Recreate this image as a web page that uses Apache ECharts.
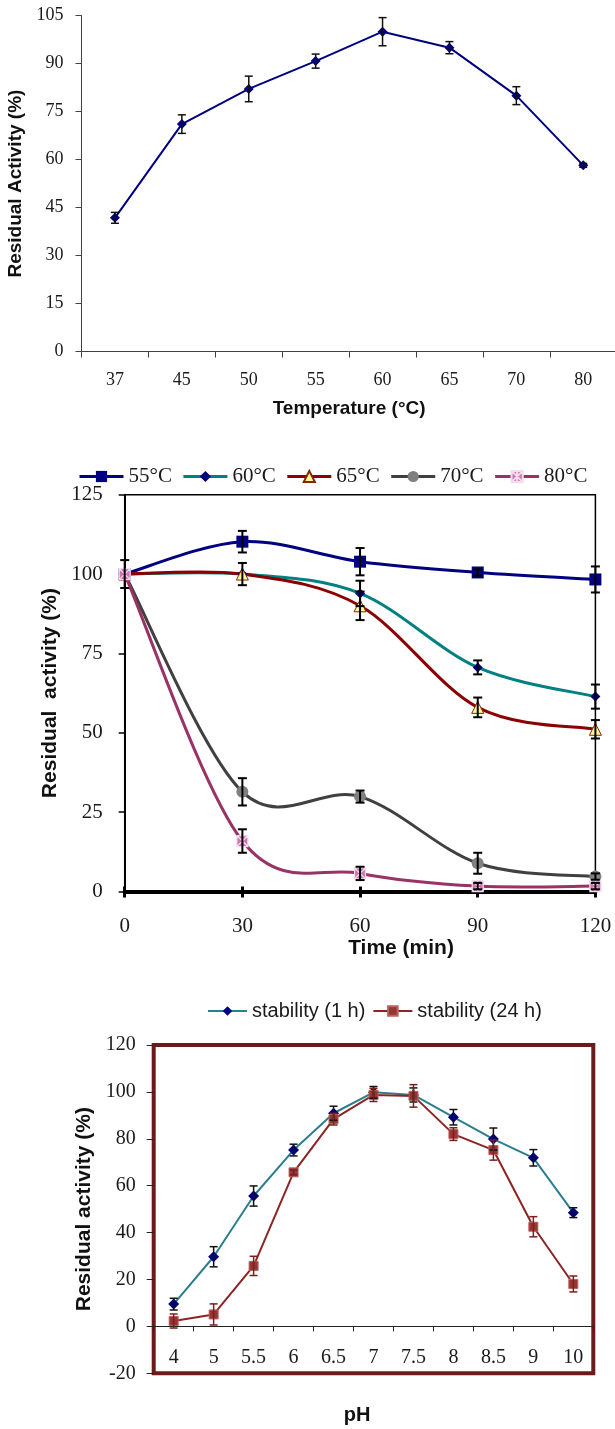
<!DOCTYPE html>
<html>
<head>
<meta charset="utf-8">
<script src="https://cdn.jsdelivr.net/npm/echarts@6/dist/echarts.min.js"></script>
<style>
  html, body { margin: 0; padding: 0; background: #fff; }
  #chart { width: 615px; height: 1429px; }
</style>
</head>
<body>
<div id="chart"></div>
<script>
// Panel A: temperature optimum
const tempCats = ['37', '45', '50', '55', '60', '65', '70', '80'];
const tempActivity = [41.8, 71.1, 82.1, 90.8, 100, 95, 80, 58.2];
const tempError = [1.7, 2.9, 4.0, 2.2, 4.4, 1.9, 2.8, 0.6];

// Panel B: thermal stability over time
const timePoints = [0, 30, 60, 90, 120];
const act55 = [100, 110.2, 103.9, 100.5, 98.3];
const err55 = [4.4, 3.4, 4.3, 1.0, 4.1];
const act60 = [100, 100, 93.9, 70.6, 61.4];
const err60 = [0, 0, 4.0, 2.2, 3.8];
const act65 = [100, 100, 90.0, 58.0, 51.1];
const err65 = [0, 3.5, 4.5, 3.1, 2.9];
const act70 = [100, 31.4, 29.9, 8.9, 4.7];
const err70 = [0, 4.3, 1.9, 3.3, 1.0];
const act80 = [100, 15.9, 5.7, 1.7, 1.7];
const err80 = [0, 3.7, 2.1, 1.0, 1.0];

// Panel C: pH stability
const pHCats = ['4', '5', '5.5', '6', '6.5', '7', '7.5', '8', '8.5', '9', '10'];
const stab1h = [9.5, 29.7, 55.6, 75.2, 90.9, 99.8, 98.7, 89.2, 79.9, 71.9, 48.5];
const err1h = [2.5, 4.3, 4.3, 2.5, 3.0, 2.5, 3.0, 3.3, 4.7, 3.5, 2.1];
const stab24h = [2.3, 5.1, 25.8, 65.7, 88.4, 98.7, 98.3, 82.0, 75.2, 42.5, 18.1];
const err24h = [3.0, 4.5, 4.1, 1.0, 2.5, 2.8, 4.8, 2.7, 4.3, 4.3, 3.4];

const SERIF = '"Liberation Serif", "Times New Roman", serif';
const SANS = '"Liberation Sans", Arial, sans-serif';

// vertical error bar with caps, data item = [x, y, err]
function errorBar(color, capWidth, lineWidth) {
  return function (params, api) {
    const x = api.value(0), y = api.value(1), e = api.value(2);
    if (!e) return null;
    const top = api.coord([x, y + e]);
    const bot = api.coord([x, y - e]);
    const hw = capWidth / 2;
    const style = { stroke: color, lineWidth: lineWidth };
    return {
      type: 'group',
      children: [
        { type: 'line', shape: { x1: top[0], y1: top[1], x2: bot[0], y2: bot[1] }, style: style },
        { type: 'line', shape: { x1: top[0] - hw, y1: top[1], x2: top[0] + hw, y2: top[1] }, style: style },
        { type: 'line', shape: { x1: bot[0] - hw, y1: bot[1], x2: bot[0] + hw, y2: bot[1] }, style: style }
      ]
    };
  };
}

function errSeries(name, xi, yi, data, color, cap, lw) {
  return {
    name: name, type: 'custom', xAxisIndex: xi, yAxisIndex: yi,
    renderItem: errorBar(color, cap, lw),
    encode: { x: 0, y: 1 }, data: data, z: 5, silent: true, clip: false
  };
}

// Catmull-Rom style smoothed curve through a whole series (spreadsheet-like smoothing)
function smoothCurve(xs, ys, color, width) {
  return function (params, api) {
    if (params.dataIndex !== 0) return null;
    const pts = xs.map((x, i) => api.coord([x, ys[i]]));
    let d = 'M' + pts[0][0] + ',' + pts[0][1];
    for (let i = 0; i < pts.length - 1; i++) {
      const p0 = pts[Math.max(i - 1, 0)], p1 = pts[i], p2 = pts[i + 1];
      const p3 = pts[Math.min(i + 2, pts.length - 1)];
      const c1 = [p1[0] + (p2[0] - p0[0]) / 6, p1[1] + (p2[1] - p0[1]) / 6];
      const c2 = [p2[0] - (p3[0] - p1[0]) / 6, p2[1] - (p3[1] - p1[1]) / 6];
      d += ' C' + c1[0] + ',' + c1[1] + ' ' + c2[0] + ',' + c2[1] + ' ' + p2[0] + ',' + p2[1];
    }
    return {
      type: 'path', shape: { pathData: d },
      style: { stroke: color, lineWidth: width, fill: 'none', lineJoin: 'round' }
    };
  };
}

const catData = (vals, errs) => vals.map((v, i) => [i, v, errs[i]]);
const timeData = (vals, errs) => timePoints.map((t, i) => [t, vals[i], errs[i]]);
const pairs = (vals) => timePoints.map((t, i) => [t, vals[i]]);

const starBox = 'path://M0,0L10,0L10,10L0,10Z M0,0L10,10 M10,0L0,10 M5,0L5,10';

// temperature series styles for panel B
const tempSeries = [
  { name: '55°C', vals: act55, errs: err55, line: '#000080', symbol: 'rect', size: 12,
    item: { color: '#000080' } },
  { name: '60°C', vals: act60, errs: err60, line: '#008080', symbol: 'diamond', size: 10,
    item: { color: '#000080' } },
  { name: '65°C', vals: act65, errs: err65, line: '#8b0000', symbol: 'triangle', size: 12,
    item: { color: '#ffff99', borderColor: '#8b2500', borderWidth: 1 } },
  { name: '70°C', vals: act70, errs: err70, line: '#404040', symbol: 'circle', size: 12,
    item: { color: '#808080' } },
  { name: '80°C', vals: act80, errs: err80, line: '#993366', symbol: starBox, size: 11,
    item: { color: '#c878b4', borderColor: '#f4dcec', borderWidth: 1.2 } }
];

const panelB = [];
tempSeries.forEach(s => {
  panelB.push({
    name: s.name + ' curve', type: 'custom', xAxisIndex: 1, yAxisIndex: 1,
    renderItem: smoothCurve(timePoints, s.vals, s.line, 3),
    encode: { x: 0, y: 1 }, data: pairs(s.vals), z: 1, silent: true, clip: false
  });
  panelB.push({
    name: s.name, type: 'line', xAxisIndex: 1, yAxisIndex: 1, data: pairs(s.vals),
    symbol: s.symbol, symbolSize: s.size, showAllSymbol: true,
    lineStyle: { color: s.line, width: 3, opacity: 0 }, itemStyle: s.item, z: 3
  });
});
tempSeries.forEach(s => {
  panelB.push(errSeries(s.name + ' error', 1, 1, timeData(s.vals, s.errs), '#000', 9, 2));
});

const chart = echarts.init(document.getElementById('chart'), null, { renderer: 'canvas' });

chart.setOption({
  animation: false,
  backgroundColor: '#ffffff',
  grid: [
    { left: 81.5, top: 15.7, width: 535.2, height: 335.8, outerBoundsMode: 'none', containLabel: false },
    { left: 124.7, top: 494.7, width: 470.7, height: 396.8, outerBoundsMode: 'none', containLabel: false,
      show: true, borderColor: '#000', borderWidth: 1.5, backgroundColor: 'transparent' },
    { left: 153.7, top: 1045, width: 439.6, height: 328.3, outerBoundsMode: 'none', containLabel: false,
      show: true, borderColor: '#6b1b1b', borderWidth: 4, backgroundColor: 'transparent' }
  ],
  legend: [
    {
      left: 73, top: 461, itemWidth: 44, itemHeight: 14, itemGap: 10,
      data: tempSeries.map(s => ({
        name: s.name,
        lineStyle: { color: s.line, width: 3, opacity: 1 }
      })),
      textStyle: { fontFamily: SERIF, fontSize: 21, color: '#1a1a1a' }
    },
    {
      left: 202, top: 996, itemWidth: 39, itemHeight: 12, itemGap: 7,
      data: ['stability (1 h)', 'stability (24 h)'],
      textStyle: { fontFamily: SANS, fontSize: 20, color: '#1a1a1a' }
    }
  ],
  xAxis: [
    {
      gridIndex: 0, type: 'category', data: tempCats, boundaryGap: true,
      name: 'Temperature (°C)', nameLocation: 'middle', nameGap: 48,
      nameTextStyle: { fontFamily: SANS, fontSize: 19, fontWeight: 'bold', color: '#111' },
      axisLine: { onZero: false, lineStyle: { color: '#404040', width: 1 } },
      axisTick: { show: true, length: 6, lineStyle: { color: '#404040' } },
      axisLabel: { fontFamily: SERIF, fontSize: 18, color: '#1a1a1a', margin: 20 },
      splitLine: { show: false }
    },
    {
      gridIndex: 1, type: 'value', min: 0, max: 120, interval: 30,
      name: 'Time (min)', nameLocation: 'middle', nameGap: 46,
      nameTextStyle: { fontFamily: SANS, fontSize: 21, fontWeight: 'bold', color: '#111', padding: [0, 0, 0, 82] },
      axisLine: { onZero: false, lineStyle: { color: '#000', width: 4 } },
      axisTick: { show: true, length: 6, lineStyle: { color: '#000', width: 3 } },
      axisLabel: { fontFamily: SERIF, fontSize: 21, color: '#1a1a1a', margin: 24 },
      splitLine: { show: false }
    },
    {
      gridIndex: 1, type: 'value', min: 0, max: 120, interval: 30, position: 'bottom',
      axisLine: { show: false, onZero: false },
      axisTick: { show: true, inside: true, length: 5, lineStyle: { color: '#000', width: 3 } },
      axisLabel: { show: false }, splitLine: { show: false }
    },
    {
      // zero line of the pH panel with its ticks
      gridIndex: 2, type: 'category', data: pHCats, boundaryGap: true, position: 'bottom',
      offset: -46.9,
      axisLine: { show: true, onZero: false, lineStyle: { color: '#222', width: 1 } },
      axisTick: { show: true, length: 5, lineStyle: { color: '#222' } },
      axisLabel: { show: false }, splitLine: { show: false }
    },
    {
      // pH labels sitting inside the frame, plus the axis title
      gridIndex: 2, type: 'category', data: pHCats, boundaryGap: true, position: 'bottom',
      axisLine: { show: false, onZero: false },
      axisTick: { show: false },
      name: 'pH', nameLocation: 'middle', nameGap: 32,
      nameTextStyle: { fontFamily: SANS, fontSize: 20, fontWeight: 'bold', color: '#111', padding: [0, 33, 0, 0] },
      axisLabel: { inside: true, fontFamily: SERIF, fontSize: 20, color: '#1a1a1a', margin: 6 },
      splitLine: { show: false }
    }
  ],
  yAxis: [
    {
      gridIndex: 0, type: 'value', min: 0, max: 105, interval: 15,
      name: 'Residual Activity (%)', nameLocation: 'middle', nameGap: 50,
      nameTextStyle: { fontFamily: SANS, fontSize: 19, fontWeight: 'bold', color: '#111' },
      axisLine: { show: true, onZero: false, lineStyle: { color: '#404040', width: 1 } },
      axisTick: { show: true, length: 6, lineStyle: { color: '#404040' } },
      axisLabel: { fontFamily: SERIF, fontSize: 18, color: '#1a1a1a', margin: 18 },
      splitLine: { show: false }
    },
    {
      gridIndex: 1, type: 'value', min: 0, max: 125, interval: 25,
      name: 'Residual  activity (%)', nameLocation: 'middle', nameGap: 61,
      nameTextStyle: { fontFamily: SANS, fontSize: 21, fontWeight: 'bold', color: '#111' },
      axisLine: { show: true, onZero: false, lineStyle: { color: '#000', width: 2 } },
      axisTick: { show: true, length: 6, lineStyle: { color: '#000', width: 1.5 } },
      axisLabel: { fontFamily: SERIF, fontSize: 21, color: '#1a1a1a', margin: 22 },
      splitLine: { show: false }
    },
    {
      gridIndex: 2, type: 'value', min: -20, max: 120, interval: 20,
      name: 'Residual activity (%)', nameLocation: 'middle', nameGap: 58,
      nameTextStyle: { fontFamily: SANS, fontSize: 21, fontWeight: 'bold', color: '#111' },
      axisLine: { show: false, onZero: false },
      axisTick: { show: true, length: 7, lineStyle: { color: '#222' } },
      axisLabel: { fontFamily: SERIF, fontSize: 20, color: '#1a1a1a', margin: 18 },
      splitLine: { show: false }
    }
  ],
  series: [
    // Panel A
    {
      name: 'Residual activity', type: 'line', xAxisIndex: 0, yAxisIndex: 0,
      data: tempActivity, symbol: 'diamond', symbolSize: 10,
      lineStyle: { color: '#000080', width: 2 }, itemStyle: { color: '#000080' }, z: 3
    },
    errSeries('temperature error', 0, 0, catData(tempActivity, tempError), '#111', 8, 1.5),

    // Panel B
    ...panelB,

    // Panel C
    {
      name: 'stability (1 h)', type: 'line', xAxisIndex: 4, yAxisIndex: 2, data: stab1h,
      symbol: 'diamond', symbolSize: 11,
      lineStyle: { color: '#2b7f8c', width: 2 }, itemStyle: { color: '#000080' }
    },
    {
      name: 'stability (24 h)', type: 'line', xAxisIndex: 4, yAxisIndex: 2, data: stab24h,
      symbol: 'rect', symbolSize: 9,
      lineStyle: { color: '#8c2424', width: 2 },
      itemStyle: { color: '#943634', borderColor: '#c0605e', borderWidth: 1 }
    },
    errSeries('1 h error', 4, 2, catData(stab1h, err1h), '#111', 8, 1.5),
    errSeries('24 h error', 4, 2, catData(stab24h, err24h), '#7a1f1f', 8, 1.5)
  ]
});
</script>
</body>
</html>
